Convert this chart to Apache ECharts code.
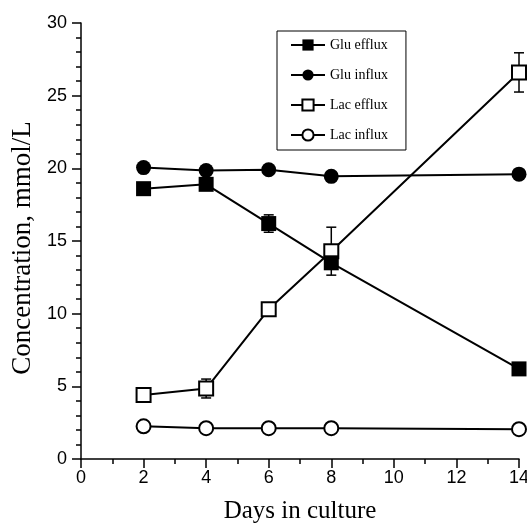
<!DOCTYPE html>
<html>
<head>
<meta charset="utf-8">
<script src="https://cdn.jsdelivr.net/npm/echarts@6/dist/echarts.min.js"></script>
<style>
html,body{margin:0;padding:0;background:#fff;}
#chart{width:527px;height:531px;}
</style>
</head>
<body>
<div id="chart"></div>
<script>
var days = [2, 4, 6, 8, 14];
var gluEfflux = [18.6, 18.9, 16.2, 13.5, 6.2];
var gluInflux = [20.05, 19.85, 19.9, 19.45, 19.6];
var lacEfflux = [4.4, 4.85, 10.3, 14.3, 26.6];
var lacInflux = [2.25, 2.12, 2.12, 2.12, 2.05];
var gluEffluxErr = [0.2, 0.3, 0.6, 0.3, 0.2];
var lacEffluxErr = [0.2, 0.65, 0.3, 1.65, 1.35];
var seriesNames = ['Glu efflux', 'Glu influx', 'Lac efflux', 'Lac influx'];

function pairs(ys) { return days.map(function (d, i) { return [d, ys[i]]; }); }
function errTriples(ys, es) { return days.map(function (d, i) { return [d, ys[i], es[i]]; }); }

var chart = echarts.init(document.getElementById('chart'), null, {renderer: 'canvas'});

function errRender(params, api) {
  var x = api.value(0), y = api.value(1), e = api.value(2);
  var top = api.coord([x, y + e]);
  var bot = api.coord([x, y - e]);
  var hw = 5;
  var st = {stroke: '#000', lineWidth: 1.5};
  return {
    type: 'group',
    children: [
      {type: 'line', shape: {x1: top[0], y1: top[1], x2: bot[0], y2: bot[1]}, style: st},
      {type: 'line', shape: {x1: top[0] - hw, y1: top[1], x2: top[0] + hw, y2: top[1]}, style: st},
      {type: 'line', shape: {x1: bot[0] - hw, y1: bot[1], x2: bot[0] + hw, y2: bot[1]}, style: st}
    ]
  };
}

var serif = 'Liberation Serif';
var sans = 'Liberation Sans';

var option = {
  backgroundColor: '#fff',
  animation: false,
  grid: {left: 81, right: 8, top: 23, bottom: 72, containLabel: false, outerBoundsMode: 'none'},
  legend: {
    data: seriesNames,
    orient: 'vertical',
    left: 277,
    top: 31,
    padding: [7, 18, 8, 13],
    itemWidth: 34,
    itemHeight: 14,
    itemGap: 16,
    borderColor: '#000',
    borderWidth: 1,
    borderRadius: 0,
    backgroundColor: '#fff',
    textStyle: {fontFamily: serif, fontSize: 14, color: '#000'}
  },
  xAxis: {
    type: 'value',
    min: 0, max: 14, interval: 2,
    name: 'Days in culture',
    nameLocation: 'middle',
    nameGap: 40,
    nameTextStyle: {fontFamily: serif, fontSize: 25, color: '#000'},
    axisLine: {show: true, onZero: false, lineStyle: {color: '#000', width: 1.5}},
    axisTick: {show: true, inside: false, length: 9, lineStyle: {color: '#000', width: 1.5}},
    minorTick: {show: true, splitNumber: 2, length: 5, lineStyle: {color: '#000', width: 1.5}},
    axisLabel: {fontFamily: sans, fontSize: 18, color: '#000', margin: 10},
    splitLine: {show: false}
  },
  yAxis: {
    type: 'value',
    min: 0, max: 30, interval: 5,
    name: 'Concentration, mmol/L',
    nameLocation: 'middle',
    nameGap: 41,
    nameTextStyle: {fontFamily: serif, fontSize: 27, color: '#000', padding: [0, 14, 0, 0]},
    axisLine: {show: true, onZero: false, lineStyle: {color: '#000', width: 1.5}},
    axisTick: {show: true, inside: false, length: 9, lineStyle: {color: '#000', width: 1.5}},
    minorTick: {show: true, splitNumber: 5, length: 5, lineStyle: {color: '#000', width: 1.5}},
    axisLabel: {fontFamily: sans, fontSize: 18, color: '#000', margin: 14},
    splitLine: {show: false}
  },
  series: [
    {
      type: 'custom', name: 'gluEffErr', renderItem: errRender,
      data: errTriples(gluEfflux, gluEffluxErr), z: 1, silent: true
    },
    {
      type: 'custom', name: 'lacEffErr', renderItem: errRender,
      data: errTriples(lacEfflux, lacEffluxErr), z: 1, silent: true
    },
    {
      type: 'line', name: 'Glu efflux', data: pairs(gluEfflux),
      symbol: 'rect', symbolSize: 15, z: 3,
      itemStyle: {color: '#000'},
      lineStyle: {color: '#000', width: 2}
    },
    {
      type: 'line', name: 'Glu influx', data: pairs(gluInflux),
      symbol: 'circle', symbolSize: 15, z: 3,
      itemStyle: {color: '#000'},
      lineStyle: {color: '#000', width: 2}
    },
    {
      type: 'line', name: 'Lac efflux', data: pairs(lacEfflux),
      symbol: 'rect', symbolSize: 14, z: 2,
      itemStyle: {color: '#fff', borderColor: '#000', borderWidth: 2},
      lineStyle: {color: '#000', width: 2}
    },
    {
      type: 'line', name: 'Lac influx', data: pairs(lacInflux),
      symbol: 'circle', symbolSize: 14, z: 2,
      itemStyle: {color: '#fff', borderColor: '#000', borderWidth: 2},
      lineStyle: {color: '#000', width: 2}
    }
  ]
};
chart.setOption(option);
</script>
</body>
</html>
